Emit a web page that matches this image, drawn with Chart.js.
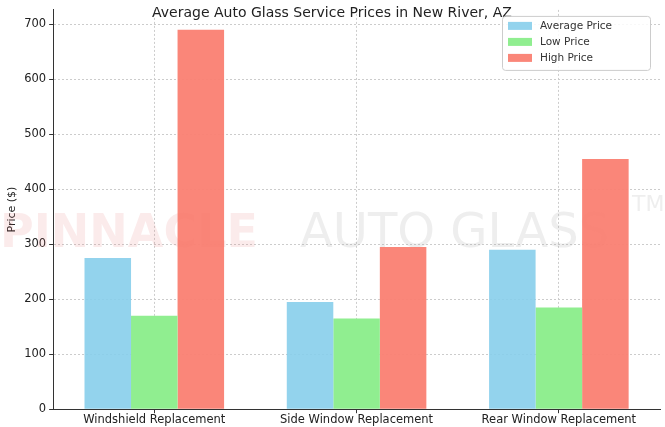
<!DOCTYPE html>
<html>
<head>
<script src="https://cdn.jsdelivr.net/npm/chart.js@4"></script>
<style>
  html, body { margin: 0; padding: 0; background: #fff; }
  #wrap { width: 665px; height: 427px; }
</style>
</head>
<body>
<div id="wrap"><canvas id="myChart" width="665" height="427"></canvas></div>
<script>
const categories = ["Windshield Replacement", "Side Window Replacement", "Rear Window Replacement"];
const averagePrice = [275, 195, 290];
const lowPrice = [170, 165, 185];
const highPrice = [690, 295, 455];
const yTicks = [0, 100, 200, 300, 400, 500, 600, 700];

// faint logo text behind the bars
const watermark = {
  id: "watermark",
  beforeDatasetsDraw(chart) {
    const ctx = chart.ctx;
    ctx.save();
    ctx.textBaseline = "middle";
    ctx.font = "bold 46px 'DejaVu Sans'";
    ctx.fillStyle = "rgba(230,120,120,0.15)";
    ctx.fillText("PINNACLE", 0, 235);
    ctx.font = "48px 'DejaVu Sans'";
    ctx.fillStyle = "rgba(160,160,160,0.18)";
    ctx.fillText("AUTO GLASS", 300, 235);
    ctx.font = "22px 'DejaVu Sans'";
    ctx.fillText("TM", 632, 205);
    ctx.restore();
  }
};

// legend box in the top right corner of the plot
const boxLegend = {
  id: "boxLegend",
  afterDraw(chart) {
    const ctx = chart.ctx, a = chart.chartArea;
    const x = a.right - 158, y = a.top + 6, w = 148, h = 54;
    ctx.save();
    ctx.fillStyle = "rgba(255,255,255,0.85)";
    ctx.strokeStyle = "#ccc";
    ctx.lineWidth = 1;
    ctx.beginPath();
    ctx.roundRect(x + 0.5, y + 0.5, w, h, 3);
    ctx.fill(); ctx.stroke();
    ctx.font = "10.5px 'DejaVu Sans'";
    ctx.textBaseline = "middle";
    chart.data.datasets.forEach((ds, i) => {
      const ry = y + 10 + i * 16;
      ctx.fillStyle = ds.backgroundColor;
      ctx.fillRect(x + 6, ry - 4, 24, 8);
      ctx.fillStyle = "#333";
      ctx.fillText(ds.label, x + 38, ry);
    });
    ctx.restore();
  }
};

new Chart(document.getElementById("myChart").getContext("2d"), {
  type: "bar",
  data: {
    labels: categories,
    datasets: [
      { label: "Average Price", data: averagePrice, backgroundColor: "rgba(135,206,235,0.9)" },
      { label: "Low Price", data: lowPrice, backgroundColor: "rgba(144,238,144,1)" },
      { label: "High Price", data: highPrice, backgroundColor: "rgba(250,128,114,0.95)" }
    ]
  },
  options: {
    responsive: false,
    animation: false,
    layout: { padding: { right: 5, bottom: 0, left: 4 } },
    datasets: { bar: { categoryPercentage: 0.69, barPercentage: 1 } },
    plugins: {
      title: {
        display: true, text: "Average Auto Glass Service Prices in New River, AZ",
        color: "#222", font: { family: "DejaVu Sans", size: 14, weight: "normal" },
        padding: { top: -2, bottom: -12 }
      },
      legend: { display: false },
      tooltip: { enabled: false }
    },
    scales: {
      x: {
        grid: { color: "#ccc", offset: false, tickColor: "#333", tickLength: 4 },
        border: { color: "#333", dash: [2, 2] },
        ticks: { color: "#222", font: { family: "DejaVu Sans", size: 11.5 }, padding: 0 }
      },
      y: {
        min: 0, max: 726,
        afterBuildTicks: (s) => { s.ticks = yTicks.map(v => ({ value: v })); },
        grid: { color: "#ccc", tickColor: "#333", tickLength: 4 },
        border: { color: "#333", dash: [2, 2] },
        title: { display: true, text: "Price ($)", color: "#222", font: { family: "DejaVu Sans", size: 11 }, padding: 2 },
        ticks: { color: "#222", font: { family: "DejaVu Sans", size: 11.5 } }
      }
    }
  },
  plugins: [watermark, boxLegend]
});
</script>
</body>
</html>
